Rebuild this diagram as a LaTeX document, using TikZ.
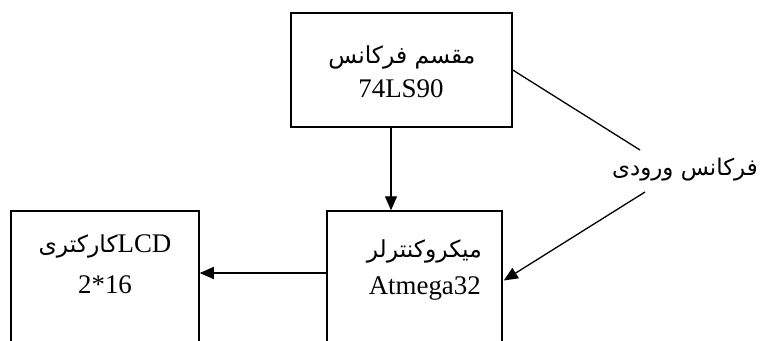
\documentclass[tikz,border=0pt]{standalone}
\usepackage{fontspec}
\setmainfont{Liberation Serif}
\newfontfamily\arabicfont[Script=Arabic]{DejaVu Sans}
\TeXXeTstate=1
\usetikzlibrary{arrows.meta}
\begin{document}
\begin{tikzpicture}[x=1bp,y=-1bp,
  box/.style={draw,line width=1.5bp,inner sep=0pt},
  lat/.style={font=\fontsize{27}{30}\selectfont,inner sep=0pt,anchor=base},
  ara/.style={font=\arabicfont\fontsize{23.5}{26}\selectfont,inner sep=0pt,anchor=base},
  lbl/.style={font=\arabicfont\fontsize{23}{26}\selectfont,inner sep=0pt},
  arr/.style={line width=1.3bp,-{Triangle[length=14bp,width=12bp]}},
  ln/.style={line width=1.3bp}]
\clip (0,0) rectangle (761,340);
\useasboundingbox (0,0) rectangle (761,340);
\node[box,minimum width=221bp,minimum height=114bp] (div) at (401.5,70) {};
\node[box,minimum width=188bp,minimum height=189bp] (lcd) at (105,305.5) {};
\node[box,minimum width=175bp,minimum height=189bp] (mcu) at (414.5,305.5) {};
\node[ara] (t1) at (402,63) {\beginR مقسم فرکانس\endR};
\node[lat] (t2) at (401,97) {74LS90};
\node[ara] (t3) at (105,252) {\beginR\beginL{\rmfamily\fontsize{27}{30}\selectfont LCD}\endL کارکتری\endR};
\node[lat] (t4) at (105,293) {2*16};
\node[ara,anchor=base east] (t5) at (482,257) {\beginR میکروکنترلر\endR};
\node[lat,anchor=base east] (t6) at (481,294) {Atmega32};
\node[lbl] (freq) at (685,170) {\beginR فرکانس ورودی\endR};
\coordinate (f1) at (640,150);
\coordinate (f2) at (645,192);
\draw[arr] ([xshift=-10.5bp]div.south) -- ([xshift=-10.5bp]div.south |- mcu.north);
\draw[arr] ([yshift=32.5bp]mcu.west) -- ([yshift=32.5bp]lcd.east);
\draw[ln] (div.east) -- (f1);
\draw[arr] (f2) -- ([yshift=25bp,xshift=1bp]mcu.east);
\end{tikzpicture}
\end{document}
